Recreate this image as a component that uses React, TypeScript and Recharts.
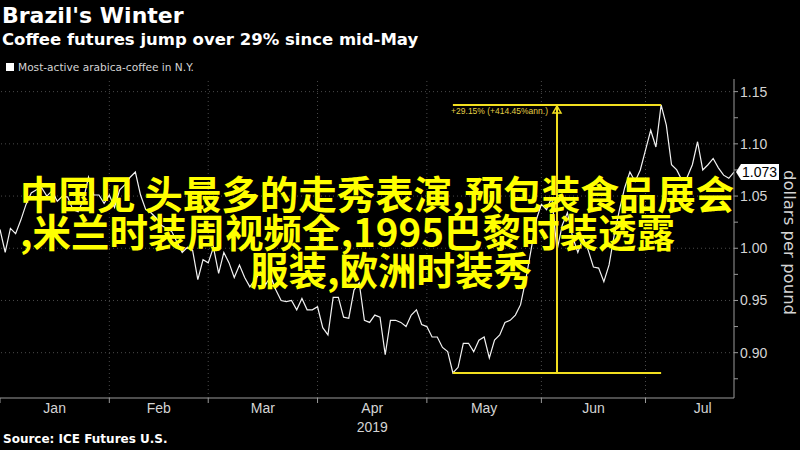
import React from 'react';
import {
  LineChart,
  Line,
  XAxis,
  YAxis,
  ReferenceLine,
  ReferenceDot
} from 'recharts';

// most-active arabica coffee, one value per trading day from early Jan 2019
const prices = [
  1.018, 0.996, 1.019, 1.014, 1.027, 1.042, 1.053, 1.056, 1.058, 1.05,
  1.055, 1.045, 1.05, 1.049, 1.037, 1.035, 1.046, 1.068, 1.051, 1.051,
  1.043, 1.051, 1.039, 1.056, 1.061, 1.068, 1.073, 1.051, 1.037, 1.034,
  1.029, 1.022, 1.019, 1.016, 1.006, 0.996, 1.001, 0.998, 0.97, 0.989,
  0.986, 1.001, 0.976, 0.996, 0.986, 0.972, 0.984, 0.972, 0.963, 0.97,
  0.977, 0.965, 0.973, 0.96, 0.95, 0.949, 0.95, 0.941, 0.952, 0.941,
  0.941, 0.944, 0.924, 0.917, 0.953, 0.953, 0.934, 0.933, 0.96, 0.967,
  0.931, 0.929, 0.936, 0.934, 0.898, 0.931, 0.931, 0.929, 0.925, 0.936,
  0.941, 0.927, 0.925, 0.915, 0.915, 0.905, 0.901, 0.8806, 0.886, 0.909,
  0.909, 0.901, 0.912, 0.915, 0.895, 0.912, 0.917, 0.929, 0.931, 0.936,
  0.946, 0.97, 0.998, 1.027, 1.042, 1.037, 1.049, 0.998, 1.022, 1.034,
  1.011, 0.996, 1.01, 0.998, 0.982, 0.981, 0.968, 0.984, 1.013, 1.037,
  1.058, 1.073, 1.064, 1.075, 1.094, 1.113, 1.097, 1.1373, 1.118, 1.08,
  1.075, 1.065, 1.068, 1.08, 1.102, 1.075, 1.08, 1.086, 1.077, 1.07,
  1.067, 1.073
];

const monthNames = ['Jan', 'Feb', 'Mar', 'Apr', 'May', 'Jun', 'Jul'];
const monthStarts = [0, 21, 40, 61, 82, 104, 124, 146];
const yTicks = [0.875, 0.9, 0.925, 0.95, 0.975, 1.0, 1.025, 1.05, 1.075, 1.1, 1.125, 1.15];
const yMajor = [0.9, 0.95, 1.0, 1.05, 1.1, 1.15];

// move annotation: low in mid-May to the June high
const lowDay = 87;
const highDay = 127;
const lowPrice = 0.8806;
const highPrice = 1.1373;
const moveLabel = '+29.15% (+414.45%ann.)';
const lastPrice = 1.073;

const overlayLines = [
  '中国见 头最多的走秀表演,预包装食品展会',
  ',米兰时装周视频全,1995巴黎时装透露',
  '服装,欧洲时装秀'
];

const data = prices.map((p, i) => ({ day: i, price: p }));
const lastDay = prices.length - 1;
const midDay = (lowDay + highDay) / 2;
const boundaries = monthStarts.slice(0, 7);
const centers = monthNames.map((_, i) => (monthStarts[i] + monthStarts[i + 1]) / 2);

const YELLOW = '#f2df1f';
const AXIS = '#9a9a9a';
const TEXT = '#d4d4d4';
const HEAD_FONT = "'DejaVu Sans', Verdana, sans-serif";

function MonthTick(props: any) {
  const { x, y, payload } = props;
  const idx = centers.indexOf(payload.value);
  if (idx < 0) {
    return <line x1={x} x2={x} y1={y - 8} y2={y - 3} stroke={AXIS} />;
  }
  return (
    <g>
      <text x={x} y={y + 7} textAnchor="middle" fill={TEXT} fontSize={14}
        fontFamily="'Liberation Sans Narrow', 'Liberation Sans', sans-serif">
        {monthNames[idx]}
      </text>
      {monthNames[idx] === 'Apr' && (
        <text x={x} y={y + 26} textAnchor="middle" fill={TEXT} fontSize={14}
          fontFamily="'Liberation Sans Narrow', 'Liberation Sans', sans-serif">
          2019
        </text>
      )}
    </g>
  );
}

function PriceTick(props: any) {
  const { x, y, payload } = props;
  const v = payload.value;
  if (!yMajor.some((m) => Math.abs(m - v) < 1e-6)) return <g />;
  return (
    <text x={x} y={y + 5} fill={TEXT} fontSize={14} fontFamily="'Liberation Sans', sans-serif">
      {v.toFixed(2)}
    </text>
  );
}

function MoveMarker(props: any) {
  const { cx, cy } = props;
  return (
    <g>
      <polygon points={`${cx},${cy + 1} ${cx - 4},${cy + 8} ${cx + 4},${cy + 8}`}
        fill="none" stroke={YELLOW} strokeWidth={1.5} />
      <text x={cx - 9} y={cy + 9} textAnchor="end" fill="#e3cf45" fontSize={8.5}
        fontFamily="'Liberation Sans', sans-serif">
        {moveLabel}
      </text>
    </g>
  );
}

function LastBox(props: any) {
  const { cx, cy } = props;
  return (
    <g>
      <polygon
        points={`${cx + 2},${cy} ${cx + 7},${cy - 8} ${cx + 45},${cy - 8} ${cx + 45},${cy + 8} ${cx + 7},${cy + 8}`}
        fill="#fff" />
      <text x={cx + 8} y={cy + 5} fill="#000" fontSize={14} fontFamily="'Liberation Sans', sans-serif">
        {lastPrice.toFixed(3)}
      </text>
    </g>
  );
}

export default function App() {
  return (
    <div style={{ position: 'fixed', left: 0, top: 0, width: 800, height: 450, background: '#000', overflow: 'hidden', fontFamily: HEAD_FONT }}>
      <div style={{ position: 'absolute', left: 2, top: 3, color: '#fff', fontWeight: 'bold', fontSize: 22, lineHeight: '26px' }}>
        Brazil's Winter
      </div>
      <div style={{ position: 'absolute', left: 2, top: 30, color: '#fff', fontWeight: 'bold', fontSize: 16.5, lineHeight: '20px' }}>
        Coffee futures jump over 29% since mid-May
      </div>
      <div style={{ position: 'absolute', left: 6, top: 60, color: TEXT, fontSize: 10.6, lineHeight: '14px', display: 'flex', alignItems: 'center' }}>
        <span style={{ display: 'inline-block', width: 8, height: 8, background: '#fff', marginRight: 4 }} />
        Most-active arabica-coffee in N.Y.
      </div>

      <LineChart width={800} height={450} data={data} margin={{ top: 79, right: 0, bottom: 0, left: 0 }}>
        <XAxis
          dataKey="day"
          type="number"
          domain={[0, lastDay]}
          ticks={[...boundaries, ...centers].sort((a, b) => a - b)}
          interval={0}
          height={52}
          axisLine={{ stroke: AXIS }}
          tickLine={false}
          tick={<MonthTick />}
          allowDataOverflow
        />
        <YAxis
          orientation="right"
          domain={[0.8566, 1.1621]}
          ticks={yTicks}
          interval={0}
          width={66}
          axisLine={{ stroke: AXIS }}
          tickLine={{ stroke: AXIS }}
          tickSize={4}
          tickMargin={2}
          tick={<PriceTick />}
          allowDataOverflow
        />
        {yMajor.map((v) => (
          <ReferenceLine key={'h' + v} y={v} stroke="#4a4a4a" strokeDasharray="1 3" />
        ))}
        {boundaries.slice(1).map((d) => (
          <ReferenceLine key={'v' + d} x={d} stroke="#4a4a4a" strokeDasharray="1 3" />
        ))}
        <Line
          dataKey="price"
          type="linear"
          stroke="#f2f2f2"
          strokeWidth={1.2}
          dot={false}
          isAnimationActive={false}
        />
        <ReferenceLine segment={[{ x: lowDay, y: highPrice }, { x: highDay, y: highPrice }]} stroke={YELLOW} strokeWidth={2} ifOverflow="visible" />
        <ReferenceLine segment={[{ x: lowDay, y: lowPrice }, { x: highDay, y: lowPrice }]} stroke={YELLOW} strokeWidth={2} ifOverflow="visible" />
        <ReferenceLine segment={[{ x: midDay, y: lowPrice }, { x: midDay, y: highPrice }]} stroke={YELLOW} strokeWidth={2} ifOverflow="visible" />
        <ReferenceDot x={midDay} y={highPrice} shape={<MoveMarker />} ifOverflow="visible" />
        <ReferenceDot x={lastDay} y={lastPrice} shape={<LastBox />} ifOverflow="visible" />
      </LineChart>

      <div style={{ position: 'absolute', left: 781, top: 170, writingMode: 'vertical-rl', color: TEXT, fontSize: 16.5, lineHeight: '17px' }}>
        dollars per pound
      </div>
      <div style={{ position: 'absolute', left: 3, top: 432, color: '#fff', fontWeight: 'bold', fontSize: 12 }}>
        Source: ICE Futures U.S.
      </div>

      {overlayLines.map((t, i) => (
        <div key={t} style={{
          position: 'absolute',
          left: i === 2 ? 250 : 20,
          top: 170 + i * 38,
          color: '#ffff00',
          fontFamily: "'Noto Sans CJK SC', sans-serif",
          fontWeight: 'bold',
          fontSize: 38.5,
          lineHeight: '44px',
          whiteSpace: 'nowrap'
        }}>
          {t}
        </div>
      ))}
    </div>
  );
}
